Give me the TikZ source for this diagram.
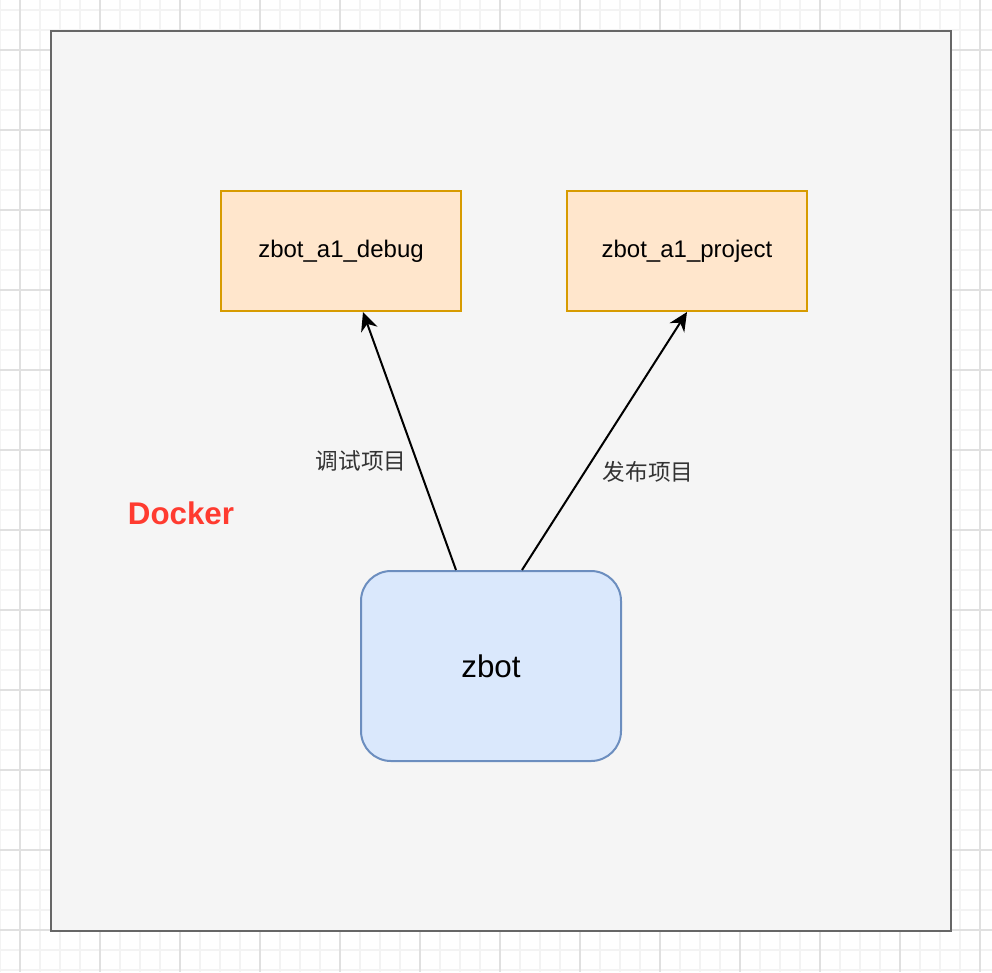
\documentclass[tikz,border=0pt]{standalone}
\usepackage{fontspec}
\setmainfont{Liberation Sans}
\newfontfamily\cjk{Noto Sans CJK SC}
\usetikzlibrary{arrows.meta}

\definecolor{framefill}{HTML}{F5F5F5}
\definecolor{framedraw}{HTML}{666666}
\definecolor{orangefill}{HTML}{FFE6CC}
\definecolor{orangedraw}{HTML}{D79B00}
\definecolor{bluefill}{HTML}{DAE8FC}
\definecolor{bluedraw}{HTML}{6C8EBF}
\definecolor{dockerred}{HTML}{FF3B30}
\definecolor{labelgray}{HTML}{333333}
\definecolor{minorline}{HTML}{F3F3F3}
\definecolor{majorline}{HTML}{E0E0E0}

\tikzstyle{minorgrid}=[minorline, line width=1.5pt]
\tikzstyle{majorgrid}=[majorline, line width=1pt]
\tikzstyle{frame}=[draw=framedraw, fill=framefill, line width=1.5pt, minimum width=675pt, minimum height=675pt]
\tikzstyle{project}=[draw=orangedraw, fill=orangefill, line width=1.5pt, minimum width=180pt, minimum height=90pt, font=\fontsize{18}{21}\selectfont]
\tikzstyle{robot}=[draw=bluedraw, fill=bluefill, line width=1.5pt, rounded corners=22.5pt, minimum width=195pt, minimum height=142.5pt, font=\fontsize{23.5}{27}\selectfont]
\tikzstyle{edgelabel}=[labelgray, font=\cjk\fontsize{17}{20}\selectfont]
\tikzstyle{arrow}=[line width=1.5pt, -{Stealth[length=14pt, width=13pt, inset=4.5pt]}]

\begin{document}
\begin{tikzpicture}[x=0.75pt, y=-0.75pt]
    \useasboundingbox (0, 0) rectangle (992, 972);
    \fill[white] (0, 0) rectangle (992, 972);
    \foreach \gx in {0, 20, ..., 980}
        \draw[minorgrid] (\gx, 0) -- (\gx, 972);
    \foreach \gy in {10, 30, ..., 970}
        \draw[minorgrid] (0, \gy) -- (992, \gy);
    \foreach \gx in {20, 100, ..., 980}
        \draw[majorgrid] (\gx, 0) -- (\gx, 972);
    \foreach \gy in {50, 130, ..., 930}
        \draw[majorgrid] (0, \gy) -- (992, \gy);

    \node[frame] (docker) at (501, 481) {};
    \node[text=dockerred, font=\bfseries\fontsize{23.5}{27}\selectfont] (dockerlbl) at (181, 513) {Docker};

    \node[project] (debug) at (341, 251) {zbot\_a1\_debug};
    \node[project] (release) at (687, 251) {zbot\_a1\_project};
    \node[robot] (zbot) at (491, 666) {zbot};

    \draw[arrow] ([xshift=-26.25pt]zbot.north) to ([xshift=16.5pt]debug.south);
    \draw[arrow] ([xshift=23.25pt]zbot.north) to (release.south);

    \node[edgelabel] (debuglbl) at (361, 461) {调试项目};
    \node[edgelabel] (releaselbl) at (648, 472) {发布项目};
  \end{tikzpicture}
\end{document}
